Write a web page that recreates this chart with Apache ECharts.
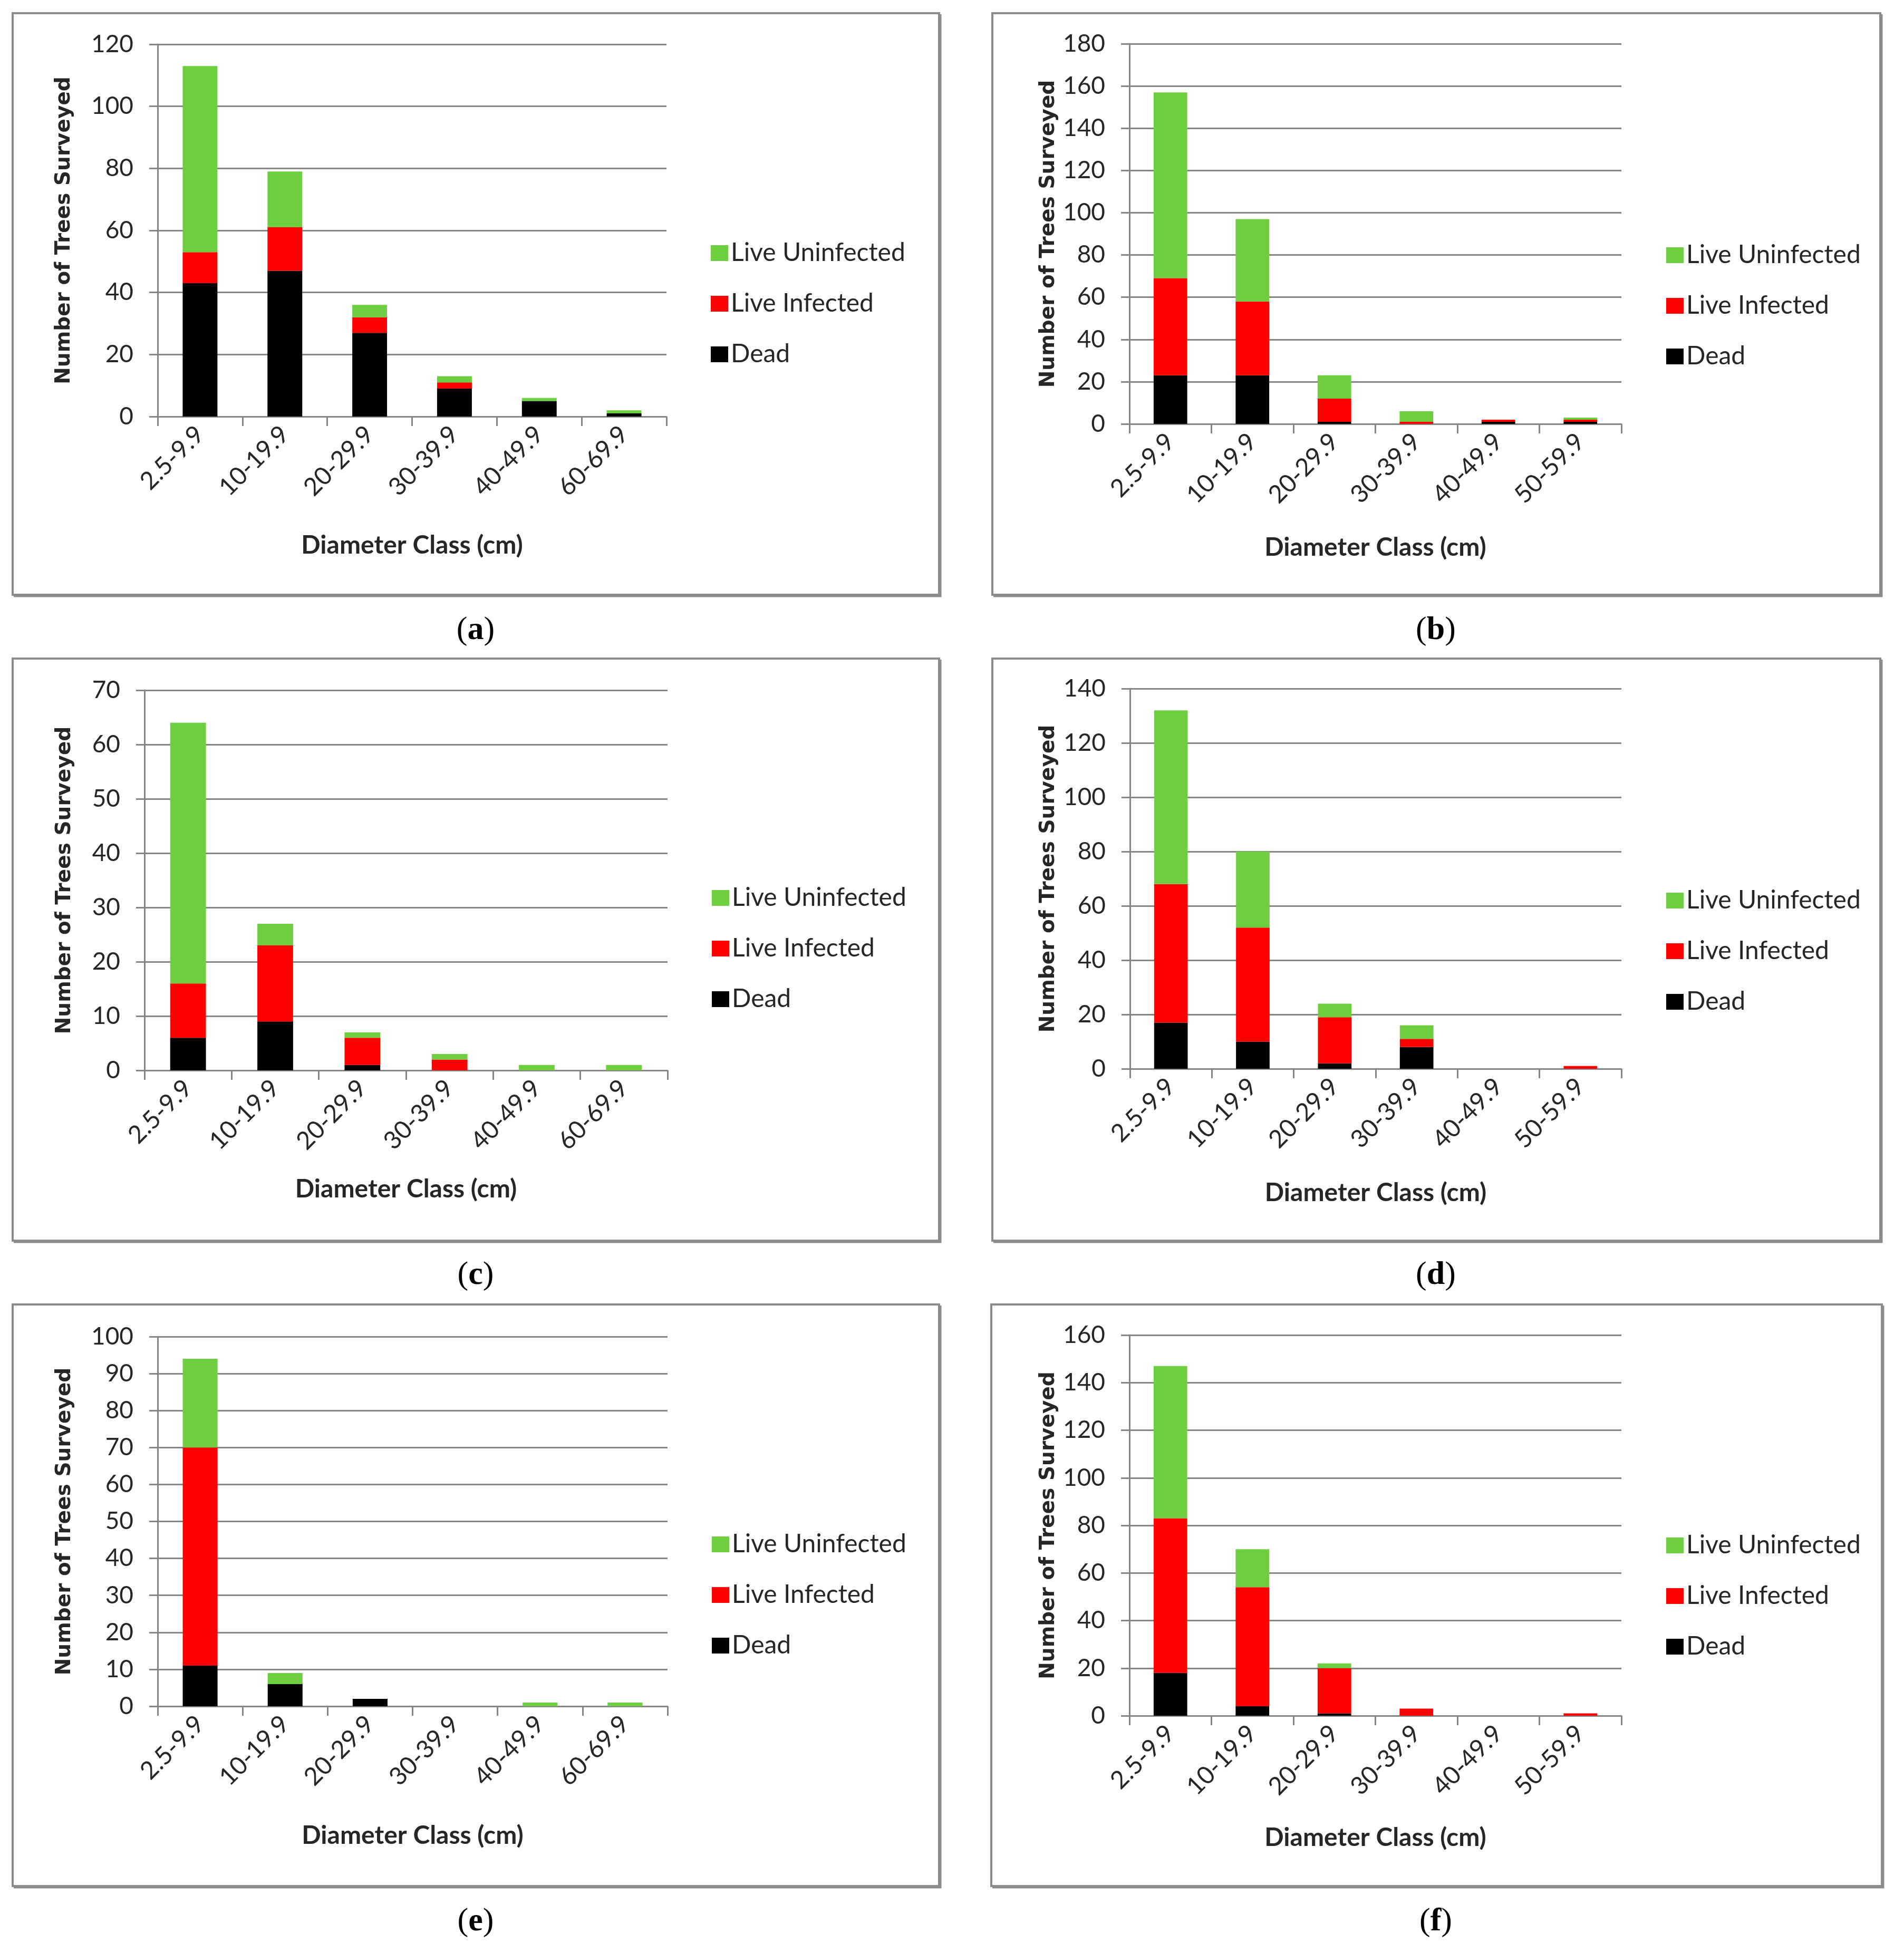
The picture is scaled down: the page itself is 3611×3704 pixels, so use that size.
<!DOCTYPE html>
<html>
<head>
<meta charset="utf-8">
<script src="https://cdn.jsdelivr.net/npm/echarts@6/dist/echarts.min.js"></script>
<style>
html,body{margin:0;padding:0;background:#fff;}
#chart{width:3611px;height:3704px;}
</style>
</head>
<body>
<div id="chart"></div>
<script>
// ---- data ----
var catsACE = ['2.5-9.9', '10-19.9', '20-29.9', '30-39.9', '40-49.9', '60-69.9'];
var catsBDF = ['2.5-9.9', '10-19.9', '20-29.9', '30-39.9', '40-49.9', '50-59.9'];
var seriesNames = ['Dead', 'Live Infected', 'Live Uninfected'];
var legendOrder = ['Live Uninfected', 'Live Infected', 'Dead'];

var deadA = [43, 47, 27, 9, 5, 1];
var infA = [10, 14, 5, 2, 0, 0];
var uninfA = [60, 18, 4, 2, 1, 1];

var deadB = [23, 23, 1, 0, 1, 1];
var infB = [46, 35, 11, 1, 1, 1];
var uninfB = [88, 39, 11, 5, 0, 1];

var deadC = [6, 9, 1, 0, 0, 0];
var infC = [10, 14, 5, 2, 0, 0];
var uninfC = [48, 4, 1, 1, 1, 1];

var deadD = [17, 10, 2, 8, 0, 0];
var infD = [51, 42, 17, 3, 0, 1];
var uninfD = [64, 28, 5, 5, 0, 0];

var deadE = [11, 6, 2, 0, 0, 0];
var infE = [59, 0, 0, 0, 0, 0];
var uninfE = [24, 3, 0, 0, 1, 1];

var deadF = [18, 4, 1, 0, 0, 0];
var infF = [65, 50, 19, 3, 0, 1];
var uninfF = [64, 16, 2, 0, 0, 0];

var yMaxes = [120, 180, 70, 140, 100, 160];
var yIntervals = [20, 20, 10, 20, 10, 20];
var panelLetters = ['a', 'b', 'c', 'd', 'e', 'f'];
var yTitle = 'Number of Trees Surveyed';
var xTitle = 'Diameter Class (cm)';

// ---- layout ----
var panels = [
  {cats: catsACE, d: [deadA, infA, uninfA], grid: [299, 84, 965, 706], legend: [1348, 456], frame: [24, 25, 1781, 1128], cap: [902, 1196], yGap: 158, xGap: 221},
  {cats: catsBDF, d: [deadB, infB, uninfB], grid: [2142, 83, 933, 721], legend: [3160, 460], frame: [1882, 25, 3566, 1128], cap: [2723, 1196], yGap: 134, xGap: 211},
  {cats: catsACE, d: [deadC, infC, uninfC], grid: [274, 1309, 992, 721], legend: [1350, 1679], frame: [24, 1249, 1781, 2353], cap: [902, 2419], yGap: 132, xGap: 202},
  {cats: catsBDF, d: [deadD, infD, uninfD], grid: [2143, 1306, 932, 721], legend: [3160, 1684], frame: [1882, 1249, 3566, 2353], cap: [2723, 2419], yGap: 135, xGap: 212},
  {cats: catsACE, d: [deadE, infE, uninfE], grid: [299, 2535, 967, 701], legend: [1350, 2905], frame: [24, 2474, 1781, 3577], cap: [902, 3645], yGap: 157, xGap: 222},
  {cats: catsBDF, d: [deadF, infF, uninfF], grid: [2142, 2532, 933, 722], legend: [3160, 2907], frame: [1880, 2474, 3569, 3577], cap: [2723, 3645], yGap: 134, xGap: 208}
];

var colors = {'Dead': '#000000', 'Live Infected': '#ff0000', 'Live Uninfected': '#6dcf40'};
var axisGray = '#868686';
var labelFont = 'Lato, "Open Sans", sans-serif';

var option = {
  backgroundColor: '#ffffff',
  animation: false,
  grid: [], xAxis: [], yAxis: [], series: [], legend: [], graphic: []
};

panels.forEach(function (p, i) {
  option.grid.push({left: p.grid[0], top: p.grid[1], width: p.grid[2], height: p.grid[3], containLabel: false});
  option.xAxis.push({
    type: 'category', gridIndex: i, data: p.cats, boundaryGap: true,
    axisLine: {show: true, lineStyle: {color: axisGray, width: 3}},
    axisTick: {show: true, alignWithLabel: false, length: 18, lineStyle: {color: axisGray, width: 3}},
    axisLabel: {rotate: 45, margin: 26, fontSize: 47, color: '#262626', fontFamily: labelFont, interval: 0},
    splitLine: {show: false},
    name: xTitle, nameLocation: 'middle', nameGap: p.xGap,
    nameTextStyle: {fontSize: 48, fontWeight: 'bold', color: '#262626', fontFamily: labelFont}
  });
  option.yAxis.push({
    type: 'value', gridIndex: i, min: 0, max: yMaxes[i], interval: yIntervals[i],
    axisLine: {show: true, lineStyle: {color: axisGray, width: 3}},
    axisTick: {show: true, length: 16, lineStyle: {color: axisGray, width: 3}},
    axisLabel: {margin: 46, fontSize: 46, color: '#262626', fontFamily: labelFont},
    splitLine: {show: true, lineStyle: {color: axisGray, width: 3}},
    name: yTitle, nameLocation: 'middle', nameGap: p.yGap, nameRotate: 90,
    nameTextStyle: {fontSize: 39, fontWeight: 'bold', color: '#262626', fontFamily: '"DejaVu Sans", sans-serif'}
  });
  seriesNames.forEach(function (name, k) {
    option.series.push({
      type: 'bar', name: name, xAxisIndex: i, yAxisIndex: i, stack: 'panel' + i,
      data: p.d[k], barWidth: '41%',
      itemStyle: {color: colors[name]}
    });
  });
  option.legend.push({
    orient: 'vertical', left: p.legend[0], top: p.legend[1], padding: 0,
    data: legendOrder, icon: 'rect', itemWidth: 33, itemHeight: 30, itemGap: 48,
    selectedMode: false,
    textStyle: {fontSize: 48, lineHeight: 48, color: '#262626', fontFamily: labelFont}
  });
  var f = p.frame;
  option.graphic.push({
    type: 'rect', silent: true, z: 100,
    shape: {x: f[0], y: f[1], width: f[2] - f[0], height: f[3] - f[1]},
    style: {fill: 'none', stroke: '#8c8c8c', lineWidth: 4}
  });
  option.graphic.push({
    type: 'polyline', silent: true, z: 100,
    shape: {points: [[f[2] + 3, f[1] + 2], [f[2] + 3, f[3] + 3], [f[0] + 2, f[3] + 3]]},
    style: {fill: 'none', stroke: '#8c8c8c', lineWidth: 3}
  });
  option.graphic.push({
    type: 'text', silent: true, x: p.cap[0], y: p.cap[1],
    style: {
      text: '{p|(}{b|' + panelLetters[i] + '}{p|)}',
      align: 'center', verticalAlign: 'middle',
      rich: {
        p: {fontSize: 62, fontFamily: '"Liberation Serif", serif', fill: '#000', color: '#000'},
        b: {fontSize: 62, fontWeight: 'bold', fontFamily: '"Liberation Serif", serif', fill: '#000', color: '#000'}
      }
    }
  });
});

var chart = echarts.init(document.getElementById('chart'), null, {renderer: 'canvas'});
chart.setOption(option);
</script>
</body>
</html>
